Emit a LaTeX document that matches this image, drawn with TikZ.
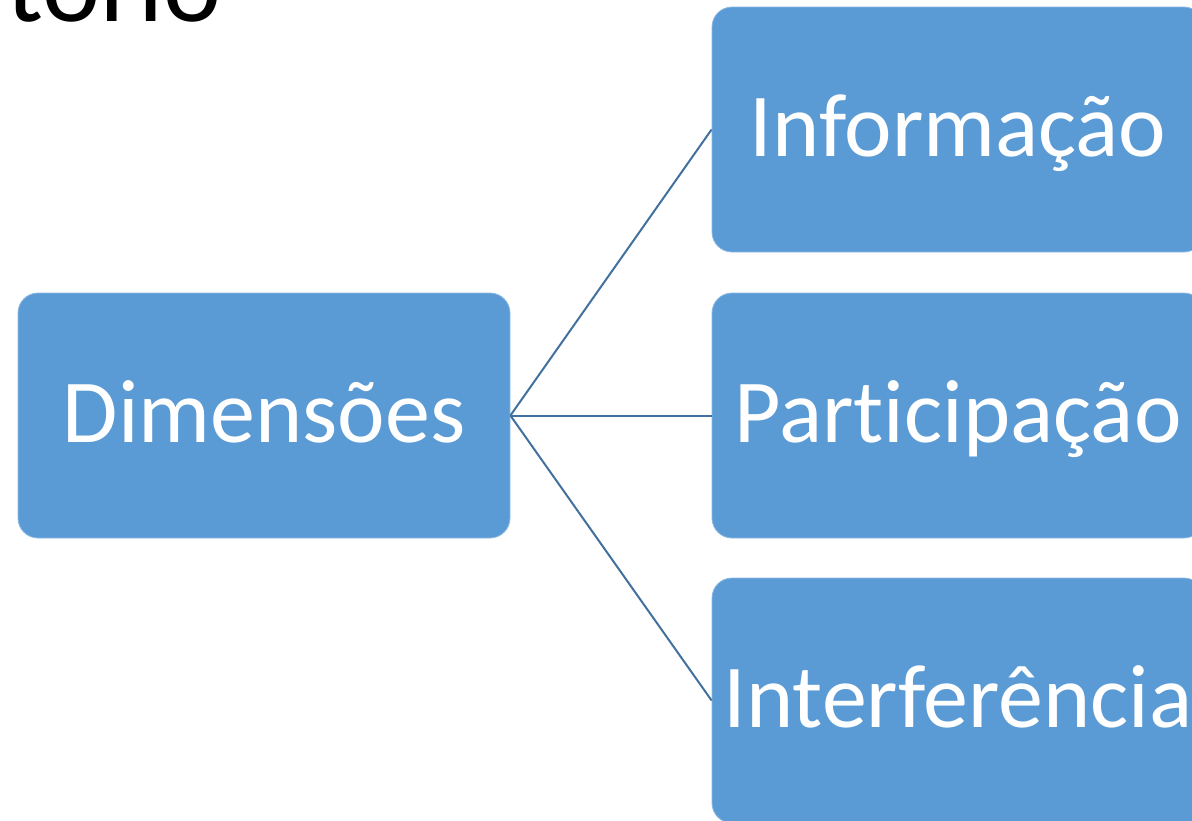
\documentclass[tikz,border=0pt]{standalone}
\usepackage{fontspec}
\setmainfont{Carlito}[Ligatures={NoCommon}]
\definecolor{boxblue}{HTML}{5B9BD5}
\definecolor{lineblue}{HTML}{41719C}
\tikzset{
  dimbox/.style={fill=boxblue, draw=boxblue!70!white, line width=0.8pt, rounded corners=20pt,
    minimum width=492pt, minimum height=245pt, inner sep=0pt, text=white,
    font=\fontsize{90}{100}\selectfont, text height=60pt, text depth=7pt, align=center},
  link/.style={draw=lineblue, line width=2pt}
}
\begin{document}
\begin{tikzpicture}[x=1pt,y=-1pt]
\useasboundingbox (0,0) rectangle (1192,820);
\clip (0,0) rectangle (1192,820);
\node[anchor=base west, inner sep=0pt, font=\fontsize{110}{120}\selectfont] (title) at (6,21) {torio};
\node[dimbox] (dim) at (264,415.5) {Dimensões};
\node[dimbox] (inf) at (958,129.5) {Informação};
\node[dimbox] (par) at (958,415.5) {Participação};
\node[dimbox] (intf) at (958,700.5) {Interferência};
\draw[link] (dim.east) -- (inf.west);
\draw[link] (dim.east) -- (par.west);
\draw[link] (dim.east) -- (intf.west);
\end{tikzpicture}
\end{document}
